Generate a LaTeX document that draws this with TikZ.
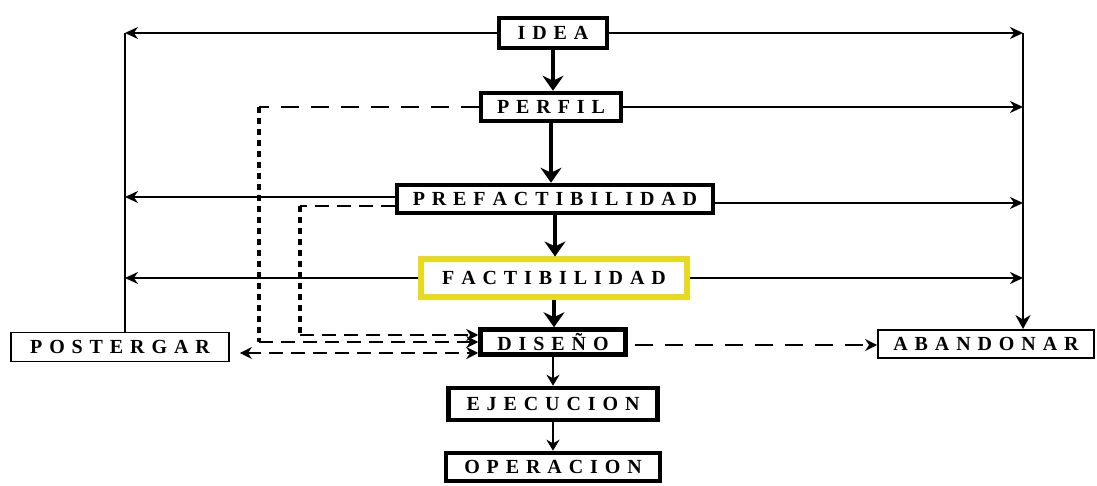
\documentclass[tikz,border=0pt]{standalone}
\usepackage{fontspec}
\setmainfont{Liberation Serif}
\usetikzlibrary{arrows.meta}
\definecolor{factyellow}{RGB}{232,218,30}
% letter spaced capitals
\newcommand\lsp{6.9pt}
\def\spcx#1#2\spcend{#1\ifx\relax#2\relax\else\hspace{\lsp}\spcx#2\spcend\fi}
\newcommand\spc[1]{\spcx#1\spcend}
\tikzset{
  stagebox/.style={draw, line width=4.5pt, inner sep=0pt,
    font=\bfseries\fontsize{20}{20}\selectfont},
  endbox/.style={draw, line width=1.8pt, inner sep=0pt,
    font=\bfseries\fontsize{20}{20}\selectfont},
  markedbox/.style={stagebox, draw=factyellow, line width=6pt},
  mainflow/.style={line width=4pt, -{Stealth[length=15pt,width=21pt]}},
  lateflow/.style={line width=2.5pt, -{Stealth[length=11pt,width=13pt]}},
  sideline/.style={line width=2pt},
  sideflow/.style={line width=2pt, -{Stealth[length=13pt,width=12pt]}},
  longdash/.style={line width=2.8pt, dash pattern=on 18pt off 12pt},
  meddash/.style={line width=2.6pt, dash pattern=on 14pt off 8pt},
  shortdash/.style={line width=3.2pt, dash pattern=on 6pt off 5pt},
}
\begin{document}
\begin{tikzpicture}[x=1pt,y=-1pt]
\useasboundingbox (0,0) rectangle (1097,486);
% stages
\node[stagebox, minimum width=108pt, minimum height=30pt] (idea) at (553,33) {\spc{IDEA}};
\node[stagebox, minimum width=140pt, minimum height=28pt] (perfil) at (551,107) {\spc{PERFIL}};
\node[stagebox, minimum width=316pt, minimum height=28pt] (prefact) at (555,199) {\spc{PREFACTIBILIDAD}};
\node[markedbox, minimum width=266pt, minimum height=37pt] (fact) at (554,278) {\spc{FACTIBILIDAD}};
\node[stagebox, minimum width=145pt, minimum height=25pt] (diseno) at (553,342) {\spc{DISEÑO}};
\node[stagebox, minimum width=209pt, minimum height=32pt] (ejec) at (553,404) {\spc{EJECUCION}};
\node[stagebox, minimum width=214pt, minimum height=28pt] (oper) at (553,467) {\spc{OPERACION}};
\node[endbox, minimum width=218pt, minimum height=29pt] (poster) at (120,347) {\spc{POSTERGAR}};
\node[endbox, minimum width=216pt, minimum height=28pt] (aband) at (986,344) {\spc{ABANDONAR}};
\coordinate (lt) at (125,33);
\coordinate (rt) at (1023,33);
\coordinate (outer) at (259,342);
\coordinate (inner) at (300,335);
% main sequence
\draw[mainflow] (idea) -- (idea |- perfil.north);
\draw[mainflow] (perfil) -- (perfil |- prefact.north);
\draw[mainflow] (prefact) -- (prefact |- fact.north);
\draw[mainflow] (fact) -- (fact |- diseno.north);
\draw[lateflow] (diseno) -- (ejec);
\draw[lateflow] (ejec) -- (oper);
% postponing side
\draw[sideflow, {Stealth[length=13pt,width=12pt]}-] (lt) -- (idea);
\draw[sideline] (lt) -- (lt |- poster.north);
\draw[sideflow] ([yshift=2pt]prefact.west) -- ([yshift=2pt]prefact.west -| lt);
\draw[sideflow] (fact.west) -- (fact.west -| lt);
% abandoning side
\draw[sideflow] (idea) -- (rt);
\draw[sideflow] (perfil) -- (perfil -| rt);
\draw[sideflow] ([yshift=-4pt]prefact.east) -- ([yshift=-4pt]prefact.east -| rt);
\draw[sideflow] (fact.east) -- (fact.east -| rt);
\draw[line width=2.6pt, -{Stealth[length=14pt,width=15pt]}] (rt) -- (rt |- aband.north);
% returns to design
\draw[longdash] (perfil.west) -- (perfil.west -| outer);
\draw[shortdash] (perfil.west -| outer) -- (outer);
\draw[meddash, -{Stealth[length=12pt,width=12pt]}] (outer) -- (outer -| diseno.west);
\draw[meddash] ([yshift=-7pt]prefact.west) -- ([yshift=-7pt]prefact.west -| inner);
\draw[shortdash] ([yshift=-7pt]prefact.west -| inner) -- (inner);
\draw[meddash, -{Stealth[length=12pt,width=12pt]}] (inner) -- (inner -| diseno.west);
\draw[meddash, {Stealth[length=12pt,width=12pt]}-{Stealth[length=12pt,width=12pt]}] ([xshift=10pt,yshift=-6pt]poster.east) -- ([yshift=-6pt]poster.east -| diseno.west);
\draw[longdash, -{Stealth[length=12pt,width=12pt]}] ([xshift=7pt,yshift=-3pt]diseno.east) -- ([yshift=-3pt]diseno.east -| aband.west);
\end{tikzpicture}
\end{document}
